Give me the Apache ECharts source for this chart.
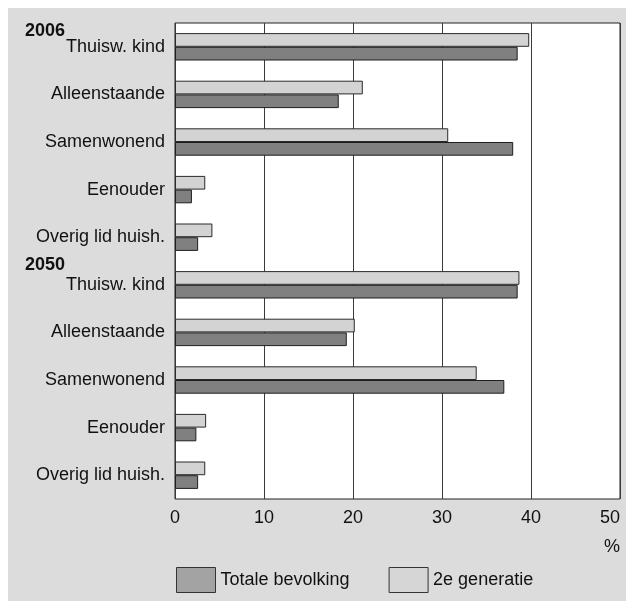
<!DOCTYPE html>
<html>
<head>
<meta charset="utf-8">
<script src="https://cdn.jsdelivr.net/npm/echarts@6/dist/echarts.min.js"></script>
<style>
  html, body { margin: 0; padding: 0; background: #ffffff; }
  #wrap { position: relative; width: 630px; height: 601px; }
  #panel { position: absolute; left: 8px; top: 8px; width: 618px; height: 593px; background: #dcdcdc; }
  #chart { position: absolute; left: 0; top: 0; width: 630px; height: 601px; }
</style>
</head>
<body>
<div id="wrap">
  <div id="panel"></div>
  <div id="chart"></div>
</div>
<script>
// Household position, share in %
const years = ['2006', '2050'];
const types = ['Thuisw. kind', 'Alleenstaande', 'Samenwonend', 'Eenouder', 'Overig lid huish.'];
const totaleBevolking2006 = [38.5, 18.4, 38.0, 1.9, 2.6];
const tweedeGeneratie2006 = [39.8, 21.1, 30.7, 3.4, 4.2];
const totaleBevolking2050 = [38.5, 19.3, 37.0, 2.4, 2.6];
const tweedeGeneratie2050 = [38.7, 20.2, 33.9, 3.5, 3.4];
const xTicks = [0, 10, 20, 30, 40, 50];

// One category per (year, type); the key carries the year, the label shows only the type
const categories = [];
years.forEach(function (y) { types.forEach(function (t) { categories.push(y + '|' + t); }); });
const totale = totaleBevolking2006.concat(totaleBevolking2050);
const tweede = tweedeGeneratie2006.concat(tweedeGeneratie2050);

const FONT = "'Liberation Sans', Arial, sans-serif";
const chart = echarts.init(document.getElementById('chart'), null, { renderer: 'canvas' });

chart.setOption({
  backgroundColor: 'transparent',
  animation: false,
  textStyle: { fontFamily: FONT },
  title: {
    text: '%',
    right: 10,
    top: 538,
    padding: 0,
    textStyle: { fontSize: 18, fontWeight: 'normal', color: '#111', fontFamily: FONT }
  },
  legend: {
    left: 176,
    top: 567,
    padding: 0,
    icon: 'rect',
    itemWidth: 39,
    itemHeight: 25,
    itemGap: 39,
    textStyle: { fontSize: 18, color: '#111', fontFamily: FONT },
    data: [
      { name: 'Totale bevolking', itemStyle: { color: '#a3a3a3', borderColor: '#333', borderWidth: 1 } },
      { name: '2e generatie', itemStyle: { color: '#d6d6d6', borderColor: '#333', borderWidth: 1 } }
    ]
  },
  grid: {
    left: 175,
    right: 10,
    top: 23,
    bottom: 102,
    show: true,
    backgroundColor: '#ffffff',
    borderColor: '#222',
    borderWidth: 1
  },
  xAxis: {
    type: 'value',
    min: xTicks[0],
    max: xTicks[xTicks.length - 1],
    interval: xTicks[1] - xTicks[0],
    axisLine: { show: false },
    axisTick: { show: false },
    splitLine: { show: true, lineStyle: { color: '#3a3a3a', width: 1 } },
    axisLabel: { fontSize: 18, color: '#111', margin: 10, fontFamily: FONT, alignMaxLabel: 'right' }
  },
  yAxis: {
    type: 'category',
    inverse: true,
    data: categories,
    axisLine: { show: false },
    axisTick: { show: false },
    splitLine: { show: false },
    axisLabel: {
      margin: 10,
      fontSize: 18,
      color: '#111',
      fontFamily: FONT,
      formatter: function (value, idx) {
        const parts = value.split('|');
        if (types.indexOf(parts[1]) === 0) {
          const st = parts[0] === years[0] ? 'ya' : 'yb';
          const sp = parts[0] === years[0] ? 'sa' : 'sb';
          return '{' + st + '|' + parts[0] + '}\n{c|' + parts[1] + '}\n{' + sp + '| }';
        }
        return parts[1];
      },
      rich: {
        ya: { fontSize: 18, fontWeight: 'bold', color: '#111', lineHeight: 14, width: 140, align: 'left', fontFamily: FONT },
        yb: { fontSize: 18, fontWeight: 'bold', color: '#111', lineHeight: 22, width: 140, align: 'left', fontFamily: FONT },
        c: { fontSize: 18, color: '#111', lineHeight: 18, fontFamily: FONT },
        sa: { fontSize: 18, lineHeight: 14 },
        sb: { fontSize: 18, lineHeight: 22 }
      }
    }
  },
  series: [
    {
      name: '2e generatie',
      type: 'bar',
      data: tweede,
      barWidth: 13.7,
      barGap: '0%',
      itemStyle: { color: '#d3d3d3', borderColor: '#2a2a2a', borderWidth: 1 }
    },
    {
      name: 'Totale bevolking',
      type: 'bar',
      data: totale,
      barWidth: 13.7,
      barGap: '0%',
      itemStyle: { color: '#808080', borderColor: '#1e1e1e', borderWidth: 1 }
    }
  ]
});
</script>
</body>
</html>
